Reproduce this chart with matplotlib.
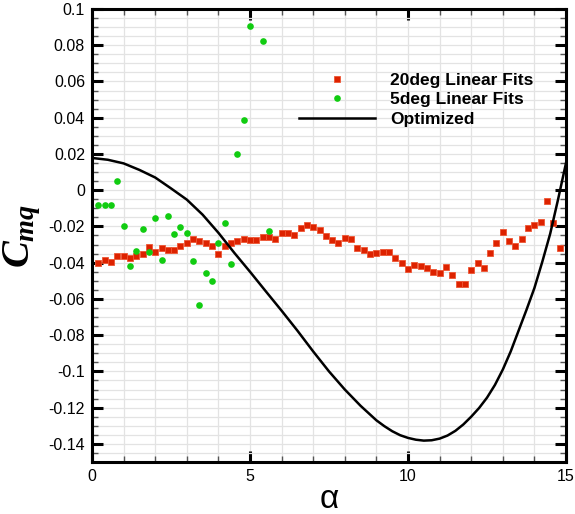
import numpy as np
import matplotlib
matplotlib.use('Agg')
import matplotlib.pyplot as plt
from matplotlib.ticker import MultipleLocator, FuncFormatter

# ─── Data ─────────────────────────────────────────────────────
alpha_20 = [0.2, 0.4, 0.6, 0.8, 1.0, 1.2, 1.4, 1.6, 1.8, 2.0,
            2.2, 2.4, 2.6, 2.8, 3.0, 3.2, 3.4, 3.6, 3.8, 4.0,
            4.2, 4.4, 4.6, 4.8, 5.0, 5.2, 5.4, 5.6, 5.8, 6.0,
            6.2, 6.4, 6.6, 6.8, 7.0, 7.2, 7.4, 7.6, 7.8, 8.0,
            8.2, 8.4, 8.6, 8.8, 9.0, 9.2, 9.4, 9.6, 9.8, 10.0,
            10.2, 10.4, 10.6, 10.8, 11.0, 11.2, 11.4, 11.6, 11.8, 12.0,
            12.2, 12.4, 12.6, 12.8, 13.0, 13.2, 13.4, 13.6, 13.8, 14.0,
            14.2, 14.4, 14.6, 14.8]
cmq_20 = [-0.0404, -0.0383, -0.0396, -0.0365, -0.0361, -0.0376, -0.0365, -0.0354, -0.0313, -0.0343,
          -0.0319, -0.0328, -0.0328, -0.0307, -0.0294, -0.0267, -0.0280, -0.0291, -0.0307, -0.0350,
          -0.0307, -0.0294, -0.0280, -0.0267, -0.0274, -0.0274, -0.0256, -0.0259, -0.0267, -0.0237,
          -0.0237, -0.0248, -0.0207, -0.0194, -0.0204, -0.0222, -0.0252, -0.0274, -0.0294, -0.0265,
          -0.0269, -0.0317, -0.0331, -0.0352, -0.0348, -0.0343, -0.0343, -0.0374, -0.0404, -0.0436,
          -0.0411, -0.0419, -0.0430, -0.0450, -0.0457, -0.0424, -0.0470, -0.0515, -0.0515, -0.0443,
          -0.0404, -0.0430, -0.0346, -0.0291, -0.0228, -0.0283, -0.0307, -0.0269, -0.0209, -0.0191,
          -0.0176, -0.0057, -0.0180, -0.0320]

alpha_5 = [0.2, 0.4, 0.6, 0.8, 1.0, 1.2, 1.4, 1.6, 1.8, 2.0,
           2.2, 2.4, 2.6, 2.8, 3.0, 3.2, 3.4, 3.6, 3.8, 4.0,
           4.2, 4.4, 4.6, 4.8, 5.0, 5.4, 5.6]
cmq_5 = [-0.0083, -0.0080, -0.0080, 0.0050, -0.0196, -0.0419, -0.0337, -0.0215, -0.0343, -0.0156,
         -0.0383, -0.0144, -0.0244, -0.0204, -0.0235, -0.0393, -0.0631, -0.0456, -0.0502, -0.0289,
         -0.0181, -0.0406, 0.0198, 0.0385, 0.0906, 0.0826, -0.0224]

alpha_opt = [0.0, 0.5, 1.0, 1.5, 2.0, 2.5, 3.0, 3.5, 4.0, 4.5,
             5.0, 5.5, 6.0, 6.5, 7.0, 7.5, 8.0, 8.5, 9.0, 9.25, 9.5, 9.75,
             10.0, 10.25, 10.5, 10.75, 11.0, 11.25, 11.5, 11.75, 12.0, 12.25, 12.5, 12.75,
             13.0, 13.25, 13.5, 13.75, 14.0, 14.25, 14.5, 14.75, 15.0]
cmq_opt = [0.0178, 0.0168, 0.0148, 0.0112, 0.0070, 0.0010, -0.0052, -0.0135, -0.0235, -0.0345,
           -0.0450, -0.0558, -0.0665, -0.0775, -0.0890, -0.1000, -0.1100, -0.1190, -0.1270, -0.1302, -0.1330, -0.1352,
           -0.1367, -0.1377, -0.1382, -0.1380, -0.1371, -0.1354, -0.1328, -0.1293, -0.1250, -0.1202, -0.1145, -0.1075,
           -0.0990, -0.0890, -0.0775, -0.0660, -0.0540, -0.0395, -0.0240, -0.0050, 0.0150]

plt.rcParams['font.family'] = ['Liberation Sans', 'DejaVu Sans']
plt.rcParams['axes.unicode_minus'] = False
plt.rcParams['mathtext.fontset'] = 'custom'
plt.rcParams['mathtext.it'] = 'Liberation Serif:bold:italic'
plt.rcParams['mathtext.rm'] = 'Liberation Serif:bold'

fig = plt.figure(figsize=(5.75, 5.14), dpi=100)
ax = fig.add_axes([92 / 575, 52 / 514, 474 / 575, 453 / 514])

ax.plot(alpha_20, cmq_20, 's', color='#dd2200', markersize=4.3,
        markeredgecolor='#ee5533', markeredgewidth=0.6,
        label='20deg Linear Fits', zorder=3)
ax.plot(alpha_5, cmq_5, 'o', color='#11cc11', markersize=4.8,
        markeredgewidth=0, label='5deg Linear Fits', zorder=3)
ax.plot(alpha_opt, cmq_opt, '-', color='black', lw=1.8,
        label='Optimized', zorder=4)

ax.set_xlim(0, 15)
ax.set_ylim(-0.15, 0.1)

ax.xaxis.set_major_locator(MultipleLocator(5))
ax.xaxis.set_minor_locator(MultipleLocator(1))
ax.yaxis.set_major_locator(MultipleLocator(0.02))
ax.yaxis.set_minor_locator(MultipleLocator(0.005))
ax.yaxis.set_major_formatter(FuncFormatter(lambda v, p: '%g' % round(v, 4)))
ax.xaxis.set_major_formatter(FuncFormatter(lambda v, p: '%g' % v))

ax.grid(True, which='both', color='#e3e3e3', lw=0.9, zorder=0)
ax.set_axisbelow(True)

ax.tick_params(which='both', direction='in', top=True, right=True,
               labelsize=11.5)
ax.tick_params(which='major', length=8, width=2.2, pad=5)
ax.tick_params(which='minor', length=4.5, width=1.0, color='#555555')
for s in ax.spines.values():
    s.set_linewidth(2.2)

ax.set_xlabel('\u03b1', fontsize=24, labelpad=0)
ax.set_ylabel(r'$C_{mq}$', fontsize=29, labelpad=4)

ax.legend(loc='upper left', bbox_to_anchor=(290 / 575, 1 - 64 / 514),
          bbox_transform=fig.transFigure, frameon=False, borderpad=0,
          handlelength=4.4, handletextpad=0.85, labelspacing=0.25,
          prop={'size': 12.5, 'weight': 'bold'})

fig.savefig('out.png', dpi=100)
